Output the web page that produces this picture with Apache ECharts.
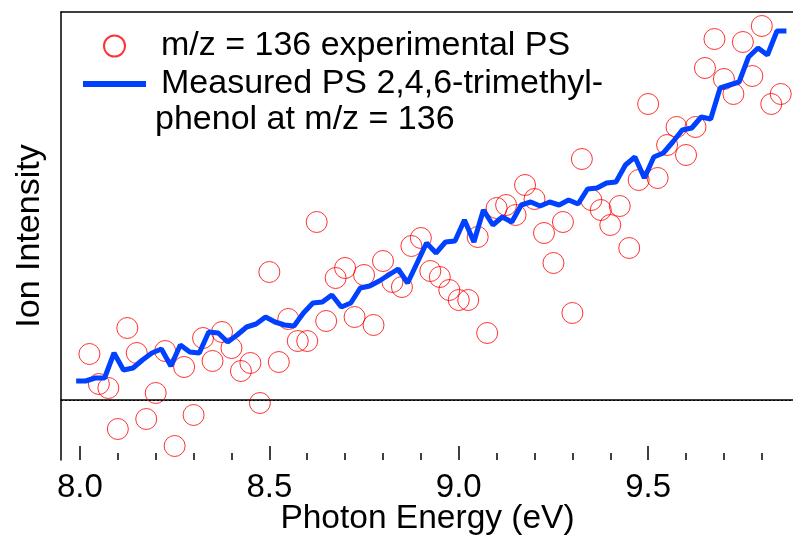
<!DOCTYPE html>
<html>
<head>
<meta charset="utf-8">
<script src="https://cdn.jsdelivr.net/npm/echarts@6/dist/echarts.min.js"></script>
<style>html,body{margin:0;padding:0;background:#fff}#c{width:793px;height:537px}</style>
</head>
<body>
<div id="c"></div>
<script>
// ---- data (x: photon energy in eV, y: ion intensity, arb. units; 0 = dotted baseline)
const expEnergy = [8.025,8.05,8.075,8.1,8.125,8.15,8.175,8.2,8.225,8.25,
  8.275,8.3,8.325,8.35,8.375,8.4,8.425,8.45,8.475,8.5,
  8.525,8.55,8.575,8.6,8.625,8.65,8.675,8.7,8.725,8.75,
  8.775,8.8,8.825,8.85,8.875,8.9,8.925,8.95,8.975,9.0,
  9.025,9.05,9.075,9.1,9.125,9.15,9.175,9.2,9.225,9.25,
  9.275,9.3,9.325,9.35,9.375,9.4,9.425,9.45,9.475,9.5,
  9.525,9.55,9.575,9.6,9.625,9.65,9.675,9.7,9.725,9.75,
  9.775,9.8,9.825,9.85];
const expIntensity = [4.6,1.6,1.2,-2.9,7.2,4.7,-1.9,0.7,4.9,-4.6,
  3.3,-1.5,6.2,3.9,6.8,5.2,2.9,3.7,-0.3,12.8,
  3.8,8.1,5.9,5.9,17.8,7.9,12.2,13.2,8.3,12.5,
  7.5,13.9,11.8,11.3,15.4,16.2,12.9,12.3,11.0,10.0,
  10.0,16.3,6.7,19.2,19.5,18.5,21.5,20.1,16.7,13.7,
  17.8,8.7,24.1,20.0,19.0,17.5,19.4,15.2,22.0,29.6,
  22.2,25.5,27.3,24.5,27.3,33.2,36.1,32.1,30.6,35.8,
  32.4,37.4,29.6,30.6];
const refEnergy = [7.99,8.015,8.04,8.065,8.09,8.115,8.14,8.165,8.19,8.215,
  8.24,8.265,8.29,8.315,8.34,8.365,8.39,8.415,8.44,8.465,
  8.49,8.515,8.54,8.565,8.59,8.615,8.64,8.665,8.69,8.715,
  8.74,8.765,8.79,8.815,8.84,8.865,8.89,8.915,8.94,8.965,
  8.99,9.015,9.04,9.065,9.09,9.115,9.14,9.165,9.19,9.215,
  9.24,9.265,9.29,9.315,9.34,9.365,9.39,9.415,9.44,9.465,
  9.49,9.515,9.54,9.565,9.59,9.615,9.64,9.665,9.69,9.715,
  9.74,9.765,9.79,9.815,9.84,9.865];
const refIntensity = [1.9,1.9,2.2,2.2,4.7,3.0,3.2,4.0,4.7,5.1,
  3.4,5.5,4.8,4.7,6.8,6.7,5.8,6.5,7.3,7.6,
  8.3,7.8,7.5,7.4,8.7,9.7,9.8,10.5,9.3,9.7,
  11.2,11.4,11.9,12.5,13.1,11.7,13.7,15.7,14.7,15.8,
  15.9,18.0,15.8,19.0,17.5,18.3,17.8,19.5,19.8,19.4,
  19.8,19.5,20.0,19.6,21.1,21.2,21.7,21.8,23.5,24.3,
  22.2,24.3,24.7,25.8,27.0,27.2,28.3,28.1,31.2,31.5,
  31.8,34.3,35.2,34.5,36.9,36.9];
const baseline = 0;
const tickLabels = ['8.0','8.5','9.0','9.5'];
const expName = 'm/z = 136 experimental PS';
const refName = 'Measured PS 2,4,6-trimethyl-';
const refName2 = 'phenol at m/z = 136';

// ---- layout
const FONT = 'Liberation Sans';
const W = 793;
const gLeft = 61, gTop = 12, gBottom = 77;
const xMin = 7.95, xMax = 9.885;
const gWidth = W - gLeft + 1;
const pxPerEv = gWidth / (xMax - xMin);
const tickMin = 8.0, tickMax = 10.0;
const tLeft = gLeft + (tickMin - xMin) * pxPerEv;
const tWidth = (tickMax - tickMin) * pxPerEv;

const chart = echarts.init(document.getElementById('c'), null, {renderer: 'canvas'});
chart.setOption({
  animation: false,
  backgroundColor: '#fff',
  textStyle: {fontFamily: FONT},
  grid: [
    {left: gLeft, width: gWidth, top: gTop, bottom: gBottom, containLabel: false, outerBoundsMode: 'none'},
    {left: tLeft, width: tWidth, top: gTop, bottom: gBottom, containLabel: false, outerBoundsMode: 'none'}
  ],
  xAxis: [
    {type: 'value', gridIndex: 0, min: xMin, max: xMax,
     axisLine: {show: true, lineStyle: {color: '#000', width: 1.5}},
     axisTick: {show: false}, axisLabel: {show: false}, splitLine: {show: false},
     name: 'Photon Energy (eV)', nameLocation: 'middle', nameGap: 42,
     nameTextStyle: {fontSize: 33.5, color: '#000', fontFamily: FONT}},
    {type: 'value', gridIndex: 0, position: 'top', min: xMin, max: xMax,
     axisLine: {show: true, lineStyle: {color: '#000', width: 1.5}},
     axisTick: {show: false}, axisLabel: {show: false}, splitLine: {show: false}},
    {type: 'value', gridIndex: 1, min: tickMin, max: tickMax, interval: 0.5,
     axisLine: {show: false},
     axisTick: {show: true, inside: true, length: 14, lineStyle: {color: '#000', width: 1.5}},
     minorTick: {show: true, splitNumber: 5, length: 7, lineStyle: {color: '#000', width: 1.5}},
     splitLine: {show: false},
     axisLabel: {show: true, margin: 11, fontSize: 33, color: '#000', fontFamily: FONT,
       formatter: v => { const s = v.toFixed(1); return tickLabels.indexOf(s) >= 0 ? s : ''; }}}
  ],
  yAxis: [
    {type: 'value', gridIndex: 0, min: -6, max: 38.8,
     axisLine: {show: true, lineStyle: {color: '#000', width: 1.5}},
     axisTick: {show: false}, axisLabel: {show: false}, splitLine: {show: false},
     name: 'Ion Intensity', nameLocation: 'middle', nameGap: 14,
     nameTextStyle: {fontSize: 34, color: '#000', fontFamily: FONT}},
    {type: 'value', gridIndex: 1, min: 0, max: 1, show: false}
  ],
  legend: {
    orient: 'vertical', left: 83, top: 29, padding: 0, itemWidth: 63, itemHeight: 21, itemGap: 4,
    data: [
      {name: expName},
      {name: refName, icon: 'path://M0,0L63,0L63,6L0,6Z', itemStyle: {color: '#0040ff'}}
    ],
    symbolKeepAspect: true,
    textStyle: {fontSize: 34, color: '#000', fontFamily: FONT, padding: [0, 0, 0, 10]},
    selectedMode: false
  },
  graphic: [
    {type: 'text', left: 155, top: 103,
     style: {text: refName2, font: '34px "Liberation Sans"', fill: '#000'}}
  ],
  series: [
    {name: expName, type: 'scatter', xAxisIndex: 0, yAxisIndex: 0,
     symbol: 'circle', symbolSize: 21,
     itemStyle: {color: 'rgba(0,0,0,0)', borderColor: '#ff0000', borderWidth: 1},
     data: expEnergy.map((x, i) => [x, expIntensity[i]]), z: 2},
    {name: refName, type: 'line', xAxisIndex: 0, yAxisIndex: 0,
     symbol: 'none', lineStyle: {color: '#0040ff', width: 5}, itemStyle: {color: '#0040ff'},
     data: refEnergy.map((x, i) => [x, refIntensity[i]]), z: 3,
     markLine: {silent: true, symbol: 'none', label: {show: false},
       lineStyle: {color: '#000', width: 1.2, type: [2, 2]},
       data: [{yAxis: baseline}]}}
  ]
});
</script>
</body>
</html>
